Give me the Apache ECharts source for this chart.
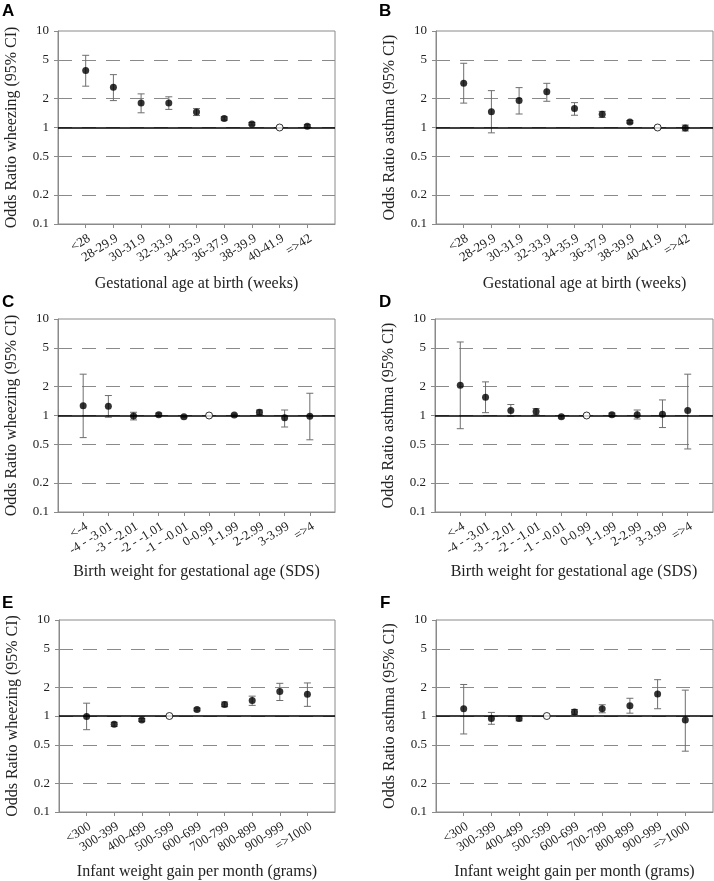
<!DOCTYPE html>
<html>
<head>
<meta charset="utf-8">
<script src="https://cdn.jsdelivr.net/npm/echarts@6/dist/echarts.min.js"></script>
<style>
html,body{margin:0;padding:0;background:#fff;}
#chart{width:714px;height:881px;}
</style>
</head>
<body>
<div id="chart"></div>
<script>
// ---------- data ----------
const gestCats = ['<28','28-29.9','30-31.9','32-33.9','34-35.9','36-37.9','38-39.9','40-41.9','=>42'];
const sdsCats = ['<-4','-4 - -3.01','-3 - -2.01','-2 - -1.01','-1 - -0.01','0-0.99','1-1.99','2-2.99','3-3.99','=>4'];
const gainCats = ['<300','300-399','400-499','500-599','600-699','700-799','800-899','900-999','=>1000'];

const refGest = '40-41.9';
const refSds = '0-0.99';
const refGain = '500-599';

const yTickValues = [0.1, 0.2, 0.5, 1, 2, 5, 10];
const yTickLabels = ['0.1', '0.2', '0.5', '1', '2', '5', '10'];

// Panel A: wheezing vs gestational age
const A_or = [3.89, 2.61, 1.79, 1.79, 1.45, 1.24, 1.09, 1, 1.03];
const A_lo = [2.68, 1.90, 1.42, 1.54, 1.33, 1.19, 1.06, null, 1.00];
const A_hi = [5.60, 3.53, 2.23, 2.08, 1.57, 1.29, 1.13, null, 1.07];
// Panel B: asthma vs gestational age
const B_or = [2.87, 1.46, 1.90, 2.34, 1.57, 1.37, 1.14, 1, 0.99];
const B_lo = [1.79, 0.88, 1.38, 1.87, 1.34, 1.27, 1.11, null, 0.92];
const B_hi = [4.63, 2.41, 2.59, 2.87, 1.81, 1.47, 1.18, null, 1.06];
// Panel C: wheezing vs birth weight SDS
const C_or = [1.26, 1.25, 0.99, 1.02, 0.97, 1, 1.01, 1.08, 0.95, 0.98];
const C_lo = [0.59, 0.96, 0.90, 1.00, 0.95, null, 0.98, 1.02, 0.76, 0.56];
const C_hi = [2.68, 1.61, 1.08, 1.06, 0.99, null, 1.03, 1.14, 1.14, 1.70];
// Panel D: asthma vs birth weight SDS
const D_or = [2.06, 1.55, 1.13, 1.10, 0.97, 1, 1.02, 1.02, 1.03, 1.13];
const D_lo = [0.73, 1.07, 0.98, 1.02, 0.94, null, 0.98, 0.92, 0.75, 0.45];
const D_hi = [5.78, 2.23, 1.30, 1.18, 1.00, null, 1.06, 1.14, 1.45, 2.68];
// Panel E: wheezing vs infant weight gain
const E_or = [0.99, 0.82, 0.91, 1, 1.17, 1.32, 1.45, 1.80, 1.68];
const E_lo = [0.72, 0.78, 0.88, null, 1.13, 1.25, 1.29, 1.45, 1.26];
const E_hi = [1.36, 0.86, 0.94, null, 1.21, 1.40, 1.61, 2.19, 2.21];
// Panel F: asthma vs infant weight gain
const F_or = [1.19, 0.94, 0.94, 1, 1.10, 1.19, 1.28, 1.69, 0.91];
const F_lo = [0.65, 0.82, 0.89, null, 1.04, 1.08, 1.07, 1.19, 0.43];
const F_hi = [2.13, 1.09, 1.00, null, 1.17, 1.31, 1.53, 2.39, 1.86];

// ---------- layout ----------
const SERIF = '"Liberation Serif","Times New Roman",serif';
const SANS = '"Liberation Sans",Arial,sans-serif';
const GRID = '#8a8a8a';

const panels = [
  {letter:'A', cats:gestCats, ref:refGest, or:A_or, lo:A_lo, hi:A_hi, yName:'Odds Ratio wheezing (95% CI)', xName:'Gestational age at birth (weeks)',
   grid:{left:58, top:31, width:277, height:193}, lx:2, ly:3, xPad:0},
  {letter:'B', cats:gestCats, ref:refGest, or:B_or, lo:B_lo, hi:B_hi, yName:'Odds Ratio asthma (95% CI)', xName:'Gestational age at birth (weeks)',
   grid:{left:436, top:31, width:277, height:193}, lx:379, ly:3, xPad:20},
  {letter:'C', cats:sdsCats, ref:refSds, or:C_or, lo:C_lo, hi:C_hi, yName:'Odds Ratio wheezing (95% CI)', xName:'Birth weight for gestational age (SDS)',
   grid:{left:58, top:319, width:277, height:193}, lx:2, ly:294, xPad:0},
  {letter:'D', cats:sdsCats, ref:refSds, or:D_or, lo:D_lo, hi:D_hi, yName:'Odds Ratio asthma (95% CI)', xName:'Birth weight for gestational age (SDS)',
   grid:{left:435, top:319, width:278, height:193}, lx:379, ly:294, xPad:0},
  {letter:'E', cats:gainCats, ref:refGain, or:E_or, lo:E_lo, hi:E_hi, yName:'Odds Ratio wheezing (95% CI)', xName:'Infant weight gain per month (grams)',
   grid:{left:59, top:620, width:276, height:194}, lx:2, ly:595, xPad:0},
  {letter:'F', cats:gainCats, ref:refGain, or:F_or, lo:F_lo, hi:F_hi, yName:'Odds Ratio asthma (95% CI)', xName:'Infant weight gain per month (grams)',
   grid:{left:436, top:620, width:277, height:194}, lx:380, ly:595, xPad:0}
];

const grids = [], xAxes = [], yAxes = [], series = [], graphics = [];

function yLabel(v) {
  let best = 0, bd = Infinity;
  yTickValues.forEach((t, i) => { const d = Math.abs(Math.log10(v) - Math.log10(t)); if (d < bd) { bd = d; best = i; } });
  return yTickLabels[best];
}

panels.forEach((p, i) => {
  const pos = p.cats.map((_, k) => k + 1);
  grids.push(Object.assign({show:true, borderColor:GRID, borderWidth:1, backgroundColor:'transparent'}, p.grid));
  xAxes.push({
    type:'value', gridIndex:i, min:0, max:p.cats.length + 1, interval:1,
    axisLine:{show:true, onZero:false, lineStyle:{color:GRID, width:1}},
    axisTick:{show:true, length:4, customValues:pos, lineStyle:{color:GRID}},
    axisLabel:{customValues:pos, rotate:32, margin:8, align:'right', verticalAlign:'top',
      fontFamily:SERIF, fontSize:13, color:'#222',
      formatter:(v) => p.cats[Math.round(v) - 1] || ''},
    splitLine:{show:false},
    name:p.xName, nameLocation:'middle', nameGap:52,
    nameTextStyle:{fontFamily:SERIF, fontSize:16, color:'#222', padding:[0,0,0,p.xPad]}
  });
  yAxes.push({
    type:'log', logBase:10, gridIndex:i, min:0.1, max:10,
    axisLine:{show:true, lineStyle:{color:GRID, width:1}},
    axisTick:{show:true, length:4, customValues:yTickValues, lineStyle:{color:GRID}},
    axisLabel:{customValues:yTickValues, margin:9, fontFamily:SERIF, fontSize:13, color:'#222', formatter:yLabel},
    splitLine:{show:true, showMinLine:false, showMaxLine:false, lineStyle:{color:GRID, width:1, type:[14,10]}},
    minorTick:{show:false}, minorSplitLine:{show:false},
    name:p.yName, nameLocation:'middle', nameGap:38,
    nameTextStyle:{fontFamily:SERIF, fontSize:16, color:'#222'}
  });
  // error bars
  const ebData = [];
  p.cats.forEach((c, k) => { if (p.lo[k] != null && p.hi[k] != null) ebData.push([k + 1, p.lo[k], p.hi[k]]); });
  series.push({
    type:'custom', xAxisIndex:i, yAxisIndex:i, z:3, silent:true,
    encode:{x:0, y:[1,2]},
    data:ebData,
    renderItem:(params, api) => {
      const x = api.value(0);
      const a = api.coord([x, api.value(1)]);
      const b = api.coord([x, api.value(2)]);
      const hw = 3.5;
      const st = {stroke:'#6e6e6e', lineWidth:1};
      return {type:'group', children:[
        {type:'line', shape:{x1:a[0], y1:a[1], x2:b[0], y2:b[1]}, style:st},
        {type:'line', shape:{x1:a[0]-hw, y1:a[1], x2:a[0]+hw, y2:a[1]}, style:st},
        {type:'line', shape:{x1:b[0]-hw, y1:b[1], x2:b[0]+hw, y2:b[1]}, style:st}
      ]};
    }
  });
  // points
  series.push({
    type:'scatter', xAxisIndex:i, yAxisIndex:i, z:5, symbol:'circle', symbolSize:7, silent:true,
    itemStyle:{color:'#000'},
    data:p.cats.map((c, k) => c === p.ref
      ? {value:[k + 1, p.or[k]], itemStyle:{color:'#fff', borderColor:'#000', borderWidth:1}}
      : {value:[k + 1, p.or[k]]}),
    markLine:{silent:true, symbol:'none', z:4, label:{show:false},
      lineStyle:{color:'#000', width:1.5, type:'solid'},
      data:[{yAxis:1}]}
  });
  graphics.push({type:'text', left:p.lx, top:p.ly, style:{text:p.letter, font:'bold 17px ' + SANS, fill:'#000'}});
});

const chart = echarts.init(document.getElementById('chart'), null, {renderer:'canvas'});
chart.setOption({
  backgroundColor:'#fff',
  animation:false,
  grid:grids, xAxis:xAxes, yAxis:yAxes, series:series, graphic:graphics
});
</script>
</body>
</html>
